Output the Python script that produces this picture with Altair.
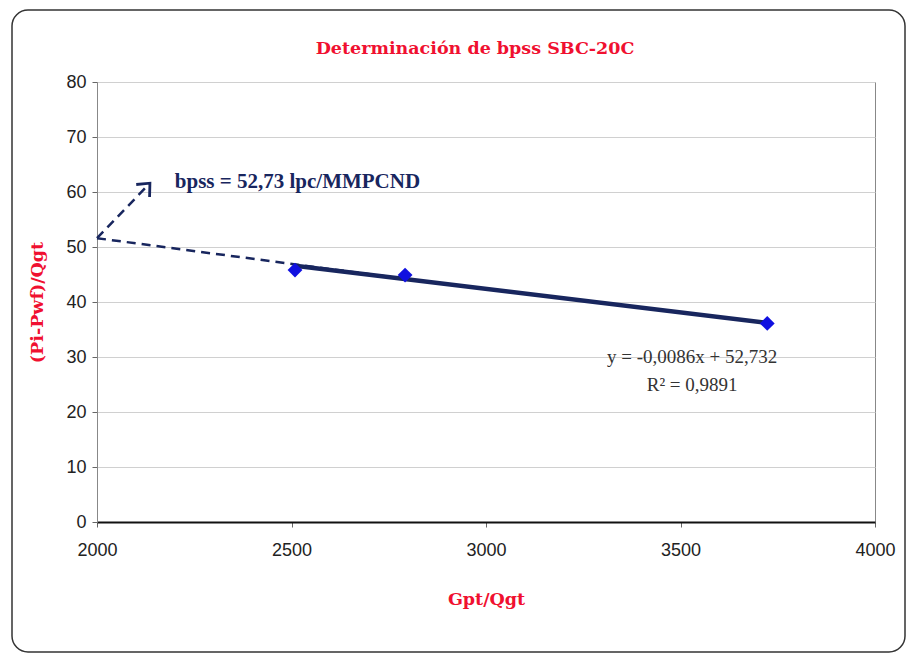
import altair as alt
import pandas as pd

# data
pts_x = [2509, 2792, 3723]
pts_y = [45.8, 44.9, 36.1]

trend_x = [2509, 3723]
trend_y = [46.6, 36.2]

extrap_x = [2000, 2770]
extrap_y = [51.6, 44.4]

arrow_x = [2000, 2136]
arrow_y = [51.6, 61.6]

x_ticks = [2000, 2500, 3000, 3500, 4000]
y_ticks = [0, 10, 20, 30, 40, 50, 60, 70, 80]

title_text = "Determinación de bpss SBC-20C"
x_title = "Gpt/Qgt"
y_title = "(Pi-Pwf)/Qgt"
bpss_text = "bpss = 52,73 lpc/MMPCND"
eq_lines = ["y = -0,0086x + 52,732", "R² = 0,9891"]
eq_x = [3530, 3530]
eq_y = [30.0, 24.9]

RED = "#f01030"
NAVY = "#18265e"
SLAB = "DejaVu Serif"
LABEL_FONT = "Liberation Sans"

xs = alt.Scale(domain=[2000, 4000], nice=False, zero=False)
ys = alt.Scale(domain=[0, 80], nice=False)

X = lambda: alt.X("x:Q", scale=xs, axis=alt.Axis(values=x_ticks, title=x_title, grid=False,
                                                  format="d", labelFlush=False))
Y = lambda: alt.Y("y:Q", scale=ys, axis=alt.Axis(values=y_ticks, title=y_title, grid=True,
                                                  format="d", labelFlush=False))

one = pd.DataFrame({"t": [title_text]})

border = alt.Chart(one).mark_rect(
    fill=None, stroke="#333", strokeWidth=1.5, cornerRadius=16, clip=False
).encode(x=alt.value(-85), x2=alt.value(808), y=alt.value(-72), y2=alt.value(570))

title = alt.Chart(one).mark_text(
    font=SLAB, fontSize=17.5, fontWeight="bold", color=RED, align="center", baseline="middle"
).encode(x=alt.value(378), y=alt.value(-33), text="t:N")

pts = alt.Chart(pd.DataFrame({"x": pts_x, "y": pts_y})).mark_point(
    shape="diamond", filled=True, color="#1010e0", size=220, opacity=1
).encode(x=X(), y=Y())

trend = alt.Chart(pd.DataFrame({"x": trend_x, "y": trend_y})).mark_line(
    color=NAVY, strokeWidth=4.5
).encode(x=X(), y=Y())

extrap = alt.Chart(pd.DataFrame({"x": extrap_x, "y": extrap_y})).mark_line(
    color=NAVY, strokeWidth=2.5, strokeDash=[9, 6]
).encode(x=X(), y=Y())

arrow = alt.Chart(pd.DataFrame({"x": arrow_x, "y": arrow_y})).mark_line(
    color=NAVY, strokeWidth=2.5, strokeDash=[9, 6]
).encode(x=X(), y=Y())

head = alt.Chart(pd.DataFrame({"x": [arrow_x[1]], "y": [arrow_y[1]]})).mark_point(
    shape="M -0.8 0.9 L 0 0 L 0.8 0.9", filled=False, stroke=NAVY, strokeWidth=2.8,
    size=520, angle=43, opacity=1
).encode(x=X(), y=Y())

bpss = alt.Chart(pd.DataFrame({"x": [2200], "y": [61.8], "t": [bpss_text]})).mark_text(
    align="left", baseline="middle", font="Liberation Serif", fontWeight="bold",
    fontSize=21, color=NAVY
).encode(x=X(), y=Y(), text="t:N")

eq = alt.Chart(pd.DataFrame({"x": eq_x, "y": eq_y, "t": eq_lines})).mark_text(
    align="center", baseline="middle", font="Liberation Serif", fontSize=19, color="#333"
).encode(x=X(), y=Y(), text="t:N")

chart = alt.layer(border, title, extrap, arrow, head, trend, pts, bpss, eq).properties(
    width=778, height=440,
    autosize=alt.AutoSizeParams(type="none"),
    padding={"left": 97, "top": 82, "right": 36, "bottom": 134},
    background="white",
).configure_view(stroke="#888", strokeWidth=1).configure_axis(
    labelFont=LABEL_FONT, labelFontSize=18, labelColor="#222",
    tickColor="#666", tickSize=5, gridColor="#d0d0d0",
    titleFont=SLAB, titleFontSize=17.5, titleFontWeight="bold", titleColor=RED,
).configure_axisX(
    domainColor="#111", domainWidth=2, labelPadding=14, titlePadding=31
).configure_axisY(
    domainColor="#888", labelPadding=6, titlePadding=19
)

chart.save("out.html", embed_options={"renderer": "svg", "actions": False})
